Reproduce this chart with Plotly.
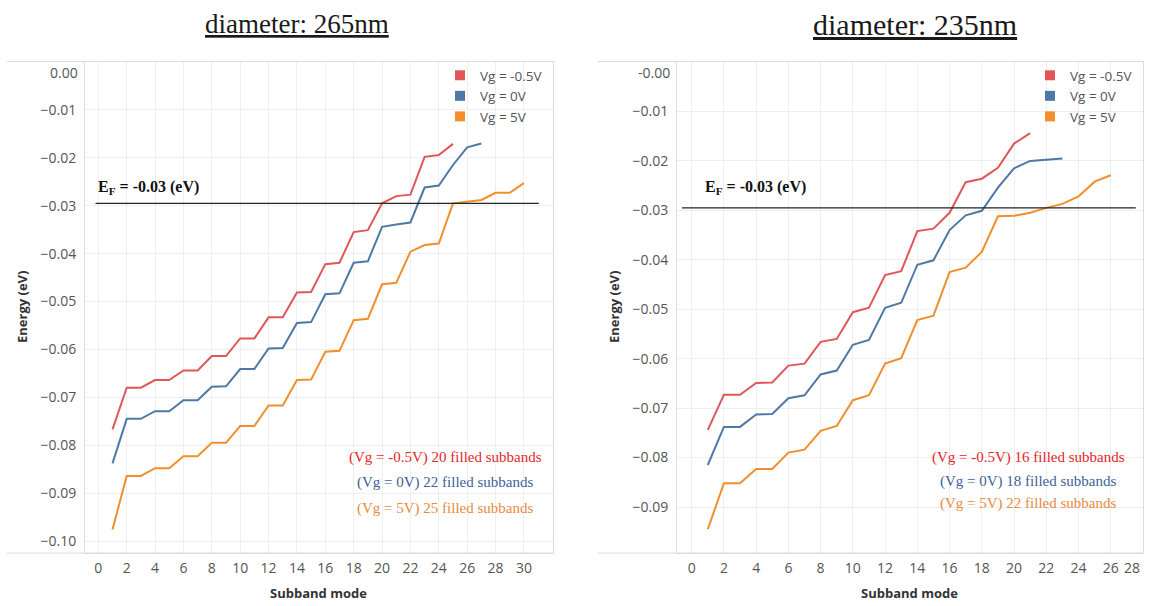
import plotly.graph_objects as go

# ---------------- data ----------------
modes_l_red = list(range(1, 26))
energy_l_red = [-0.0767, -0.0680, -0.0680, -0.0664, -0.0664, -0.0644, -0.0644, -0.0614, -0.0614,
                -0.0577, -0.0577, -0.0533, -0.0533, -0.0481, -0.0480, -0.0422, -0.0419, -0.0355,
                -0.0351, -0.0295, -0.0280, -0.0277, -0.0198, -0.0194, -0.0171]
modes_l_blue = list(range(1, 28))
energy_l_blue = [-0.0838, -0.0745, -0.0745, -0.0729, -0.0729, -0.0706, -0.0706, -0.0678, -0.0677,
                 -0.0641, -0.0641, -0.0598, -0.0597, -0.0545, -0.0543, -0.0485, -0.0483, -0.0419,
                 -0.0416, -0.0344, -0.0339, -0.0335, -0.0262, -0.0258, -0.0215, -0.0178, -0.0170]
modes_l_orange = list(range(1, 31))
energy_l_orange = [-0.0976, -0.0864, -0.0864, -0.0848, -0.0848, -0.0823, -0.0823, -0.0795, -0.0795,
                   -0.0760, -0.0760, -0.0717, -0.0717, -0.0664, -0.0663, -0.0605, -0.0603, -0.0539,
                   -0.0536, -0.0464, -0.0461, -0.0396, -0.0382, -0.0379, -0.0295, -0.0291, -0.0288,
                   -0.0273, -0.0273, -0.0253]

modes_r_red = list(range(1, 22))
energy_r_red = [-0.0744, -0.0673, -0.0673, -0.0649, -0.0648, -0.0614, -0.0610, -0.0566, -0.0560,
                -0.0506, -0.0497, -0.0431, -0.0423, -0.0342, -0.0337, -0.0305, -0.0243, -0.0236,
                -0.0214, -0.0165, -0.0144]
modes_r_blue = list(range(1, 24))
energy_r_blue = [-0.0815, -0.0738, -0.0738, -0.0713, -0.0712, -0.0680, -0.0674, -0.0632, -0.0624,
                 -0.0572, -0.0562, -0.0497, -0.0487, -0.0410, -0.0401, -0.0340, -0.0310, -0.0301,
                 -0.0254, -0.0215, -0.0200, -0.0197, -0.0195]
modes_r_orange = list(range(1, 27))
energy_r_orange = [-0.0945, -0.0852, -0.0852, -0.0823, -0.0823, -0.0790, -0.0784, -0.0746, -0.0736,
                   -0.0684, -0.0674, -0.0610, -0.0599, -0.0522, -0.0513, -0.0425, -0.0416, -0.0384,
                   -0.0312, -0.0311, -0.0305, -0.0295, -0.0287, -0.0272, -0.0242, -0.0229]

series_names = ["Vg = -0.5V", "Vg = 0V", "Vg = 5V"]
fermi_level = -0.0295
fermi_label = "<b>E<sub>F</sub> = -0.03 (eV)</b>"
titles = ["diameter: 265nm", "diameter: 235nm"]
notes_left = ["(Vg = -0.5V) 20 filled subbands", "(Vg = 0V) 22 filled subbands", "(Vg = 5V) 25 filled subbands"]
notes_right = ["(Vg = -0.5V) 16 filled subbands", "(Vg = 0V) 18 filled subbands", "(Vg = 5V) 22 filled subbands"]
yticks_left = [-0.01, -0.02, -0.03, -0.04, -0.05, -0.06, -0.07, -0.08, -0.09, -0.10]
yticks_right = [-0.01, -0.02, -0.03, -0.04, -0.05, -0.06, -0.07, -0.08, -0.09]
xticks_left = list(range(0, 31, 2))
xticks_right = list(range(0, 27, 2))

# ---------------- style ----------------
W, H = 1149, 606
line_colors = ["#e15759", "#4e79a7", "#f28e2b"]
note_colors = ["#e5252b", "#3e5f99", "#e98a3d"]
grid = "#efefef"
border = "#dcdcdc"
tick_font = dict(family="Open Sans", size=14, color="#555555")
serif = "Liberation Serif"


def px(x):
    return x / W


def py(y):
    return 1 - y / H


fig = go.Figure()

left_sets = [(modes_l_red, energy_l_red), (modes_l_blue, energy_l_blue), (modes_l_orange, energy_l_orange)]
right_sets = [(modes_r_red, energy_r_red), (modes_r_blue, energy_r_blue), (modes_r_orange, energy_r_orange)]

for i, (xs, ys) in enumerate(left_sets):
    fig.add_trace(go.Scatter(x=xs, y=ys, mode="lines", line=dict(color=line_colors[i], width=2),
                             showlegend=False, xaxis="x", yaxis="y"))
for i, (xs, ys) in enumerate(right_sets):
    fig.add_trace(go.Scatter(x=xs, y=ys, mode="lines", line=dict(color=line_colors[i], width=2),
                             showlegend=False, xaxis="x2", yaxis="y2"))

# legend entries (square swatches)
for i, name in enumerate(series_names):
    fig.add_trace(go.Scatter(x=[None], y=[None], mode="markers", name=name,
                             marker=dict(symbol="square", size=10, color=line_colors[i]),
                             xaxis="x", yaxis="y", legend="legend"))
    fig.add_trace(go.Scatter(x=[None], y=[None], mode="markers", name=name,
                             marker=dict(symbol="square", size=10, color=line_colors[i]),
                             xaxis="x2", yaxis="y2", legend="legend2"))

yd = [py(553), py(62)]
axis_common = dict(showgrid=True, gridcolor=grid, gridwidth=1, zeroline=False, showline=True,
                   linecolor=border, linewidth=1, mirror=True, tickfont=tick_font, ticks="")

legend_font = dict(family="Open Sans", size=13.5, color="#555555")
fig.update_layout(
    width=W, height=H,
    margin=dict(l=0, r=0, t=0, b=0),
    paper_bgcolor="white", plot_bgcolor="white",
    xaxis=dict(domain=[px(85), px(553)], range=[-0.94, 32.05], tickvals=xticks_left,
               anchor="y", ticklabelstandoff=2, **axis_common),
    yaxis=dict(domain=yd, range=[-0.1025, 0.0], tickvals=yticks_left, tickformat=".2f",
               anchor="x", ticklabelstandoff=5, **axis_common),
    xaxis2=dict(domain=[px(677), px(1143)], range=[-0.91, 28.0], tickvals=xticks_right,
                anchor="y2", ticklabelstandoff=2, **axis_common),
    yaxis2=dict(domain=yd, range=[-0.0993, 0.0], tickvals=yticks_right, tickformat=".2f",
                anchor="x2", ticklabelstandoff=5, **axis_common),
    legend=dict(x=px(440), y=py(60), xanchor="left", yanchor="top", bgcolor="rgba(0,0,0,0)",
                font=legend_font, itemwidth=30, tracegroupgap=0),
    legend2=dict(x=px(1030), y=py(60), xanchor="left", yanchor="top", bgcolor="rgba(0,0,0,0)",
                 font=legend_font, itemwidth=30, tracegroupgap=0),
)

shapes = []
# Fermi level lines
shapes.append(dict(type="line", xref="x", yref="y", x0=-0.2, x1=31.05, y0=fermi_level, y1=fermi_level,
                   line=dict(color="#222222", width=1.3)))
shapes.append(dict(type="line", xref="x2", yref="y2", x0=-0.6, x1=27.55, y0=fermi_level, y1=fermi_level,
                   line=dict(color="#222222", width=1.3)))
# pane border lines extending over the axis label area
for x0, x1 in [(7, 553), (598, 1143)]:
    for yy in (61.5, 553):
        shapes.append(dict(type="line", xref="paper", yref="paper", x0=px(x0), x1=px(x1),
                           y0=py(yy), y1=py(yy), line=dict(color=border, width=1)))
fig.update_layout(shapes=shapes)


def note(text, x, y, font, xanchor="center", **kw):
    return dict(text=text, x=px(x), y=py(y), xref="paper", yref="paper", xanchor=xanchor,
                yanchor="middle", showarrow=False, font=font, **kw)


ann = []
# titles
ann.append(note("<u>" + titles[0] + "</u>", 297, 24, dict(family=serif, size=27, color="#1a1a1a")))
ann.append(note("<u>" + titles[1] + "</u>", 915, 24, dict(family=serif, size=30, color="#1a1a1a")))
# axis titles
ax_font = dict(family="Open Sans", size=13, color="#333333")
for xc in (22, 614):
    ann.append(note("<b>Energy (eV)</b>", xc, 307, ax_font, textangle=-90))
for xc in (318, 909):
    ann.append(note("<b>Subband mode</b>", xc, 593, ax_font))
# edge tick labels shifted inside (as in the reference)
ann.append(note("0.00", 80, 72, tick_font, xanchor="right"))
ann.append(note("-0.00", 672, 73, tick_font, xanchor="right"))
ann.append(note("28", 1132, 567, tick_font))
# Fermi labels
ef_font = dict(family=serif, size=16, color="#111111")
ann.append(note(fermi_label, 96, 187, ef_font, xanchor="left"))
ann.append(note(fermi_label, 703, 187, ef_font, xanchor="left"))
# filled subband notes
for i, (t, yc) in enumerate(zip(notes_left, [457, 482, 508])):
    ann.append(note(t, 445, yc, dict(family=serif, size=15, color=note_colors[i])))
for i, (t, yc) in enumerate(zip(notes_right, [457, 481, 503])):
    ann.append(note(t, 1028, yc, dict(family=serif, size=15, color=note_colors[i])))
fig.update_layout(annotations=ann)

fig.write_html("out.html")
